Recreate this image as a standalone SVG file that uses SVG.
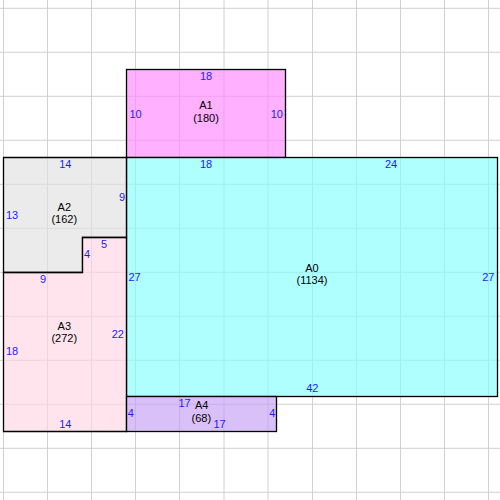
<svg xmlns="http://www.w3.org/2000/svg" width="500" height="500" viewBox="0 0 500 500">
<style>
.grid line{stroke:#d0d0d0;stroke-width:1}
.shape{stroke:#000;stroke-width:1.3;fill-opacity:0.65}
text{font-family:"Liberation Sans",Arial,sans-serif;font-size:11px}
.dim{fill:#1a1aff}
.lbl{fill:#000;text-anchor:middle}
.m{text-anchor:middle}
.e{text-anchor:end}
</style>
<rect x="0" y="0" width="500" height="500" fill="#fff"/>
<g class="grid">
<line x1="3.5" y1="0" x2="3.5" y2="500"/><line x1="47.5" y1="0" x2="47.5" y2="500"/><line x1="91.5" y1="0" x2="91.5" y2="500"/><line x1="135.5" y1="0" x2="135.5" y2="500"/><line x1="179.5" y1="0" x2="179.5" y2="500"/><line x1="224" y1="0" x2="224" y2="500"/><line x1="268" y1="0" x2="268" y2="500"/><line x1="312.5" y1="0" x2="312.5" y2="500"/><line x1="356.5" y1="0" x2="356.5" y2="500"/><line x1="400.5" y1="0" x2="400.5" y2="500"/><line x1="444.5" y1="0" x2="444.5" y2="500"/><line x1="488.5" y1="0" x2="488.5" y2="500"/>
<line x1="0" y1="8.3" x2="500" y2="8.3"/><line x1="0" y1="52.3" x2="500" y2="52.3"/><line x1="0" y1="96.3" x2="500" y2="96.3"/><line x1="0" y1="140.3" x2="500" y2="140.3"/><line x1="0" y1="184.3" x2="500" y2="184.3"/><line x1="0" y1="228.3" x2="500" y2="228.3"/><line x1="0" y1="272.3" x2="500" y2="272.3"/><line x1="0" y1="316.3" x2="500" y2="316.3"/><line x1="0" y1="360.3" x2="500" y2="360.3"/><line x1="0" y1="404.3" x2="500" y2="404.3"/><line x1="0" y1="448.3" x2="500" y2="448.3"/><line x1="0" y1="492.3" x2="500" y2="492.3"/>
</g>
<g id="A1">
<rect class="shape" x="126.5" y="69.5" width="159" height="88" fill="#ff85ff"/>
<text class="dim m" x="206" y="80">18</text>
<text class="dim" x="129.5" y="118">10</text>
<text class="dim e" x="283" y="118">10</text>
<text class="lbl" x="206" y="109">A1</text>
<text class="lbl" x="206" y="121.5">(180)</text>
</g>
<g id="A0">
<rect class="shape" x="126.5" y="157.5" width="371" height="239" fill="#85ffff"/>
<text class="dim m" x="206" y="167.7">18</text>
<text class="dim m" x="391" y="167.5">24</text>
<text class="dim" x="128.5" y="280.7">27</text>
<text class="dim e" x="494.5" y="280.7">27</text>
<text class="dim m" x="312.3" y="392.3">42</text>
<text class="lbl" x="312" y="272.3">A0</text>
<text class="lbl" x="312" y="284.2">(1134)</text>
</g>
<g id="A2">
<polygon class="shape" points="3.5,157.5 126.5,157.5 126.5,237.5 82.5,237.5 82.5,272.5 3.5,272.5" fill="#e0e0e0"/>
<text class="dim m" x="65.3" y="167.7">14</text>
<text class="dim" x="6" y="218.7">13</text>
<text class="dim e" x="125" y="201">9</text>
<text class="lbl" x="64.3" y="210.7">A2</text>
<text class="lbl" x="64.3" y="222.7">(162)</text>
</g>
<g id="A3">
<polygon class="shape" points="82.5,237.5 126.5,237.5 126.5,431.5 3.5,431.5 3.5,272.5 82.5,272.5" fill="#ffd6e5"/>
<text class="dim m" x="104" y="247.7">5</text>
<text class="dim" x="84" y="258.3">4</text>
<text class="dim m" x="43" y="282.7">9</text>
<text class="dim e" x="124" y="337.7">22</text>
<text class="dim" x="6" y="355.3">18</text>
<text class="dim m" x="65.3" y="428.3">14</text>
<text class="lbl" x="64.3" y="330">A3</text>
<text class="lbl" x="64.3" y="342.3">(272)</text>
</g>
<g id="A4">
<rect class="shape" x="126.5" y="396.5" width="150" height="35" fill="#c69ef4"/>
<text class="dim" x="127.7" y="416.7">4</text>
<text class="dim e" x="275.3" y="416.7">4</text>
<text class="dim m" x="184.5" y="406.7">17</text>
<text class="dim m" x="219.5" y="427.7">17</text>
<text class="lbl" x="201.7" y="409.3">A4</text>
<text class="lbl" x="201.3" y="421.7">(68)</text>
</g>
<g id="connectors"></g>
</svg>
